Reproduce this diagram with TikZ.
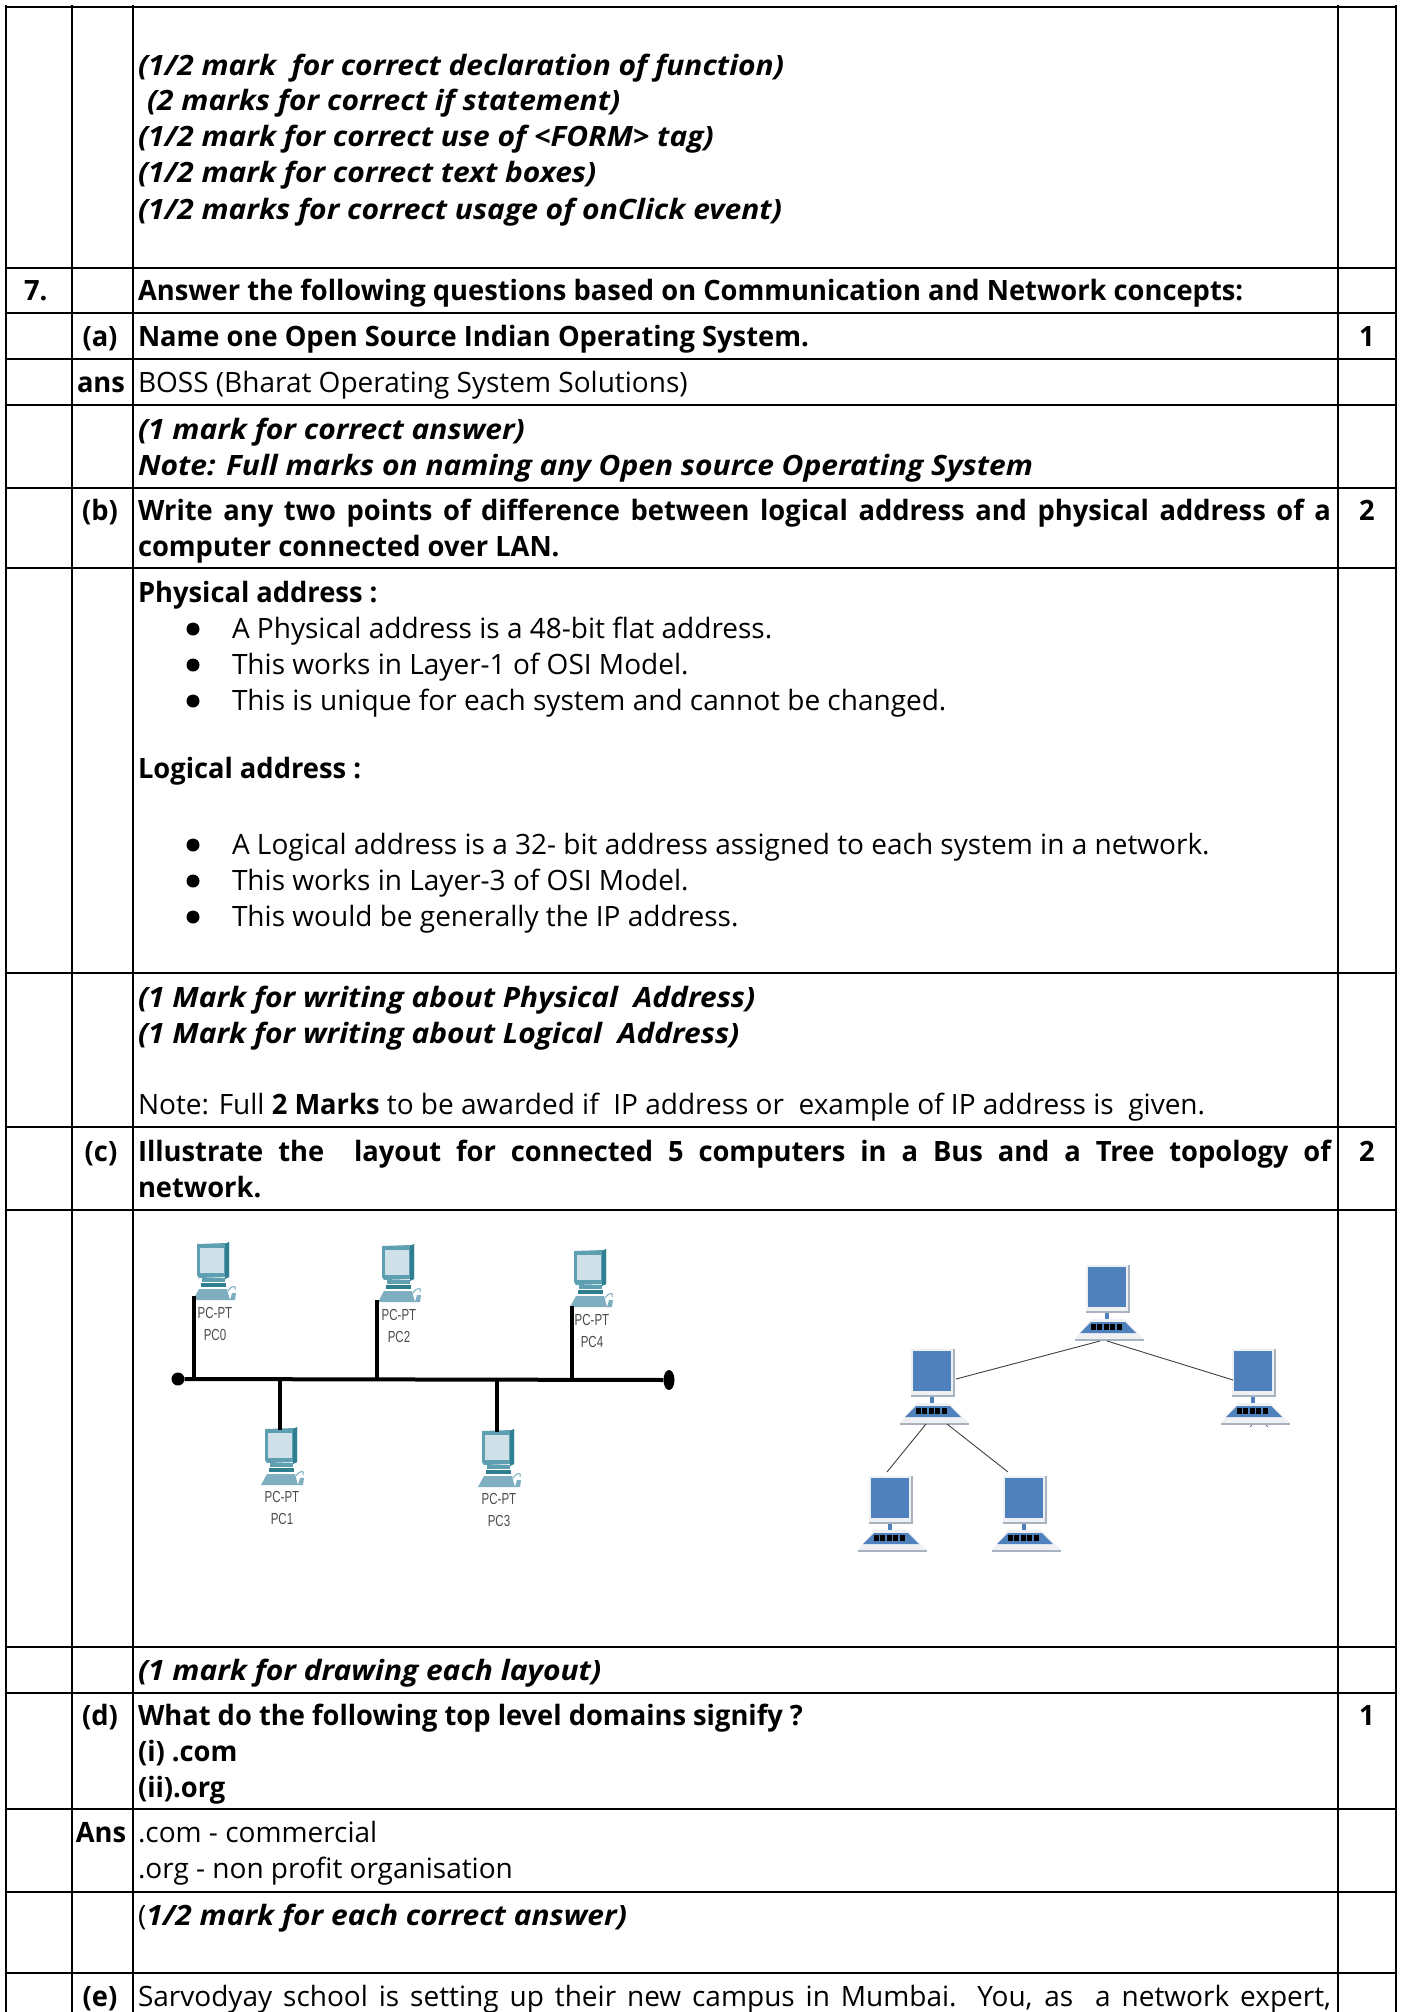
\documentclass[tikz,border=0pt]{standalone}
\usepackage{fontspec}
\setmainfont{Open Sans}
\newfontfamily\bdf[FakeStretch=0.975]{Open Sans}
\newfontfamily\itf[FakeStretch=1.07]{Open Sans}
\newfontfamily\lblfont[FakeStretch=0.72]{Liberation Sans}
\usetikzlibrary{calc,shapes.geometric}
\definecolor{pcteal}{HTML}{5E9FB2}
\definecolor{pcdark}{HTML}{2F7F90}
\definecolor{pcscreen}{HTML}{CFE0E8}
\definecolor{pcbase}{HTML}{7FAEC0}
\definecolor{treeblue}{HTML}{4F81BD}
\definecolor{treelight}{HTML}{EEF0F3}
\definecolor{treegrey}{HTML}{A9B3C0}
\tikzset{
  x=1pt,y=-1pt,
  rule/.style={black,line width=2.2pt},
  txt/.style={anchor=base west,inner sep=0pt,outer sep=0pt,text=black,font=\fontsize{28}{36}\selectfont},
  bd/.style={txt,font=\fontsize{28}{36}\bdf\bfseries},
  it/.style={txt,font=\fontsize{28}{36}\itf\bfseries\itshape},
  mid/.style={anchor=base,inner sep=0pt,outer sep=0pt,font=\fontsize{28}{36}\bdf\bfseries},
  lbl/.style={anchor=base,inner sep=0pt,outer sep=0pt,text=black!70,font=\fontsize{16}{20}\lblfont},
  wire/.style={black,line width=3.2pt},
  bus/.style={black,line width=4pt},
  tree/.style={black!75,line width=0.9pt},
  dotnode/.style={circle,fill=black,inner sep=0pt,minimum size=13pt},
  pcicon/.pic={
    \fill[pcteal] (0,1) -- (30,0) -- (32,-1) -- (32,34) -- (2,35) -- (0,32) -- cycle;
    \fill[pcdark] (28,1) -- (32,-1) -- (32,34) -- (28,36) -- cycle;
    \fill[pcscreen] (3,5) rectangle (27,30);
    \fill[pcteal] (5,35) rectangle (28,39);
    \fill[pcdark] (4,40) rectangle (29,44);
    \fill[pcbase] (2,46) -- (30,46) -- (33,57) -- (-4,57) -- cycle;
    \draw[pcbase,line width=1pt] (31,48) .. controls (35,42) and (40,42) .. (38,47);
    \fill[pcbase] (35,50) -- (39,50) -- (38,57) -- (33,57) -- cycle;
  },
  treepc/.pic={
    \fill[treelight] (-2,-2) rectangle (41,46);
    \fill[treegrey] (40,-2) rectangle (42,44);
    \fill[treegrey] (-2,44) rectangle (42,46);
    \fill[treeblue] (0,0) rectangle (38,40);
    \fill[treeblue] (17,46) rectangle (21,52);
    \fill[treelight] (3,52) -- (36,52) -- (56,72) -- (-13,72) -- cycle;
    \fill[treegrey] (-13,72) rectangle (56,74);
    \fill[treeblue] (3,55) -- (37,55) -- (48,66) -- (-8,66) -- cycle;
    \foreach \k in {3,9.4,15.8,22.2,28.6} \fill[black] (\k,57) rectangle ++(5,6);
  }
}
\begin{document}
\begin{tikzpicture}
\useasboundingbox (0,0) rectangle (1401,2012);
% horizontal rules
\foreach \y in {7,268,313,359,405,488,568,973,1127,1210,1647,1693,1809,1892,1973}
  \draw[rule] (5,\y) -- (1397,\y);
% vertical rules
\foreach \x in {6,72,133,1338,1396}
  \draw[rule] (\x,5) -- (\x,2013);
% top block
\node[it] (t1) at (138,76) {(1/2 mark\ \ for correct declaration of function)};
\node[it] (t2) at (147,111) {(2 marks for correct if statement)};
\node[it] (t3) at (138,147) {(1/2 mark for correct use of <FORM> tag)};
\node[it] (t4) at (138,183) {(1/2 mark for correct text boxes)};
\node[it] (t5) at (138,219) {(1/2 marks for correct usage of onClick event)};
% question 7
\node[bd] (q7) at (24,300) {7.};
\node[bd] (q7t) at (138,300) {Answer the following questions based on Communication and Network concepts:};
\node[mid] (la) at (100,346) {(a)};
\node[bd] (qa) at (138,346) {Name one Open Source Indian Operating System.};
\node[mid] (ma) at (1367,346) {1};
\node[mid] (lans) at (101,392) {ans};
\node[txt] (aa) at (138,392) {BOSS (Bharat Operating System Solutions)};
\node[it] (na1) at (138,439) {(1 mark for correct answer)};
\node[it] (na2) at (138,475) {Note: Full marks on naming any Open source Operating System};
% (b)
\node[mid] (lb) at (100,520) {(b)};
\node[bd] (qb1) at (138,520) {\makebox[1193pt][s]{Write any two points of difference between logical address and physical address of a}};
\node[bd] (qb2) at (138,556) {computer connected over LAN.};
\node[mid] (mb) at (1367,520) {2};
\node[bd] (ph) at (138,602) {Physical address :};
\foreach \y/\s/\n in {638/A Physical address is a 48-bit flat address./p1,674/This works in Layer-1 of OSI Model./p2,710/This is unique for each system and cannot be changed./p3,854/A Logical address is a 32- bit address assigned to each system in a network./l1,890/This works in Layer-3 of OSI Model./l2,926/This would be generally the IP address./l3}{
  \node[txt] (\n) at (232,\y) {\s};
  \node[dotnode] (b\n) at (193,\y-9) {};
}
\node[bd] (lg) at (138,778) {Logical address :};
\node[it] (nb1) at (138,1007) {(1 Mark for writing about Physical\ \ Address)};
\node[it] (nb2) at (138,1043) {(1 Mark for writing about Logical\ \ Address)};
\node[txt] (nb3) at (138,1114) {Note: Full {\bdf\bfseries 2 Marks} to be awarded if\ \ IP address or\ \ example of IP address is\ \ given.};
% (c)
\node[mid] (lc) at (101,1161) {(c)};
\node[bd] (qc1) at (138,1161) {\makebox[1193pt][s]{Illustrate the\ \ layout for connected 5 computers in a Bus and a Tree topology of}};
\node[bd] (qc2) at (138,1197) {network.};
\node[mid] (mc) at (1367,1161) {2};
% bus layout
\node[dotnode] (busL) at (178,1379) {};
\node[ellipse,fill=black,inner sep=0pt,minimum width=11pt,minimum height=20pt] (busR) at (669,1380) {};
\draw[bus] (busL) -- (busR);
\pic at (197,1243) {pcicon};
\pic at (265,1428) {pcicon};
\pic at (382,1245) {pcicon};
\pic at (482,1430) {pcicon};
\pic at (574,1250) {pcicon};
\foreach \n/\x/\ya/\yb/\m in {pc0/215/1318/1340/PC0,pc1/282/1502/1524/PC1,pc2/399/1320/1342/PC2,pc3/499/1504/1526/PC3,pc4/592/1325/1347/PC4}{
  \node[lbl] (\n t) at (\x,\ya) {PC-PT};
  \node[lbl] (\n n) at (\x,\yb) {\m};
}
\coordinate (w0a) at (194,1296); \coordinate (w0b) at (194,1379);
\coordinate (w1a) at (280,1379); \coordinate (w1b) at (280,1430);
\coordinate (w2a) at (377,1300); \coordinate (w2b) at (377,1379);
\coordinate (w3a) at (497,1379); \coordinate (w3b) at (497,1432);
\coordinate (w4a) at (572,1306); \coordinate (w4b) at (572,1379);
\draw[wire] (w0a) -- (w0b);
\draw[wire] (w1a) -- (w1b);
\draw[wire] (w2a) -- (w2b);
\draw[wire] (w3a) -- (w3b);
\draw[wire] (w4a) -- (w4b);
% tree layout
\pic at (1088,1267) {treepc};
\pic at (913,1351) {treepc};
\pic at (1234,1351) {treepc};
\pic at (871,1478) {treepc};
\pic at (1005,1478) {treepc};
\coordinate (topL) at (1100,1341); \coordinate (topR) at (1107,1341);
\coordinate (midE) at (956,1379); \coordinate (rgtW) at (1233,1380);
\coordinate (midA) at (926,1424); \coordinate (midB) at (947,1424);
\coordinate (blN) at (887,1472); \coordinate (brN) at (1008,1472);
\draw[tree] (midE) -- (topL);
\draw[tree] (topR) -- (rgtW);
\draw[tree] (midA) -- (blN);
\draw[tree] (midB) -- (brN);
\draw[tree,line width=.6pt] (1250,1427) -- (1252,1425);
\draw[tree,line width=.6pt] (1266,1425) -- (1268,1427);
% rest
\node[it] (nc) at (138,1680) {(1 mark for drawing each layout)};
\node[mid] (ld) at (100,1725) {(d)};
\node[bd] (qd1) at (138,1725) {What do the following top level domains signify ?};
\node[bd] (qd2) at (138,1761) {(i) .com};
\node[bd] (qd3) at (138,1797) {(ii).org};
\node[mid] (md) at (1367,1725) {1};
\node[mid] (lans2) at (101,1842) {Ans};
\node[txt] (ad1) at (138,1842) {.com - commercial};
\node[txt] (ad2) at (138,1878) {.org - non profit organisation};
\node[txt] (nd) at (138,1925) {({\itf\bfseries\itshape 1/2 mark for each correct answer)}};
\node[mid] (le) at (100,2006) {(e)};
\node[txt] (qe) at (138,2006) {\makebox[1193pt][s]{Sarvodyay school is setting up their new campus in Mumbai. You, as\ \ a network expert,}};
\end{tikzpicture}
\end{document}
